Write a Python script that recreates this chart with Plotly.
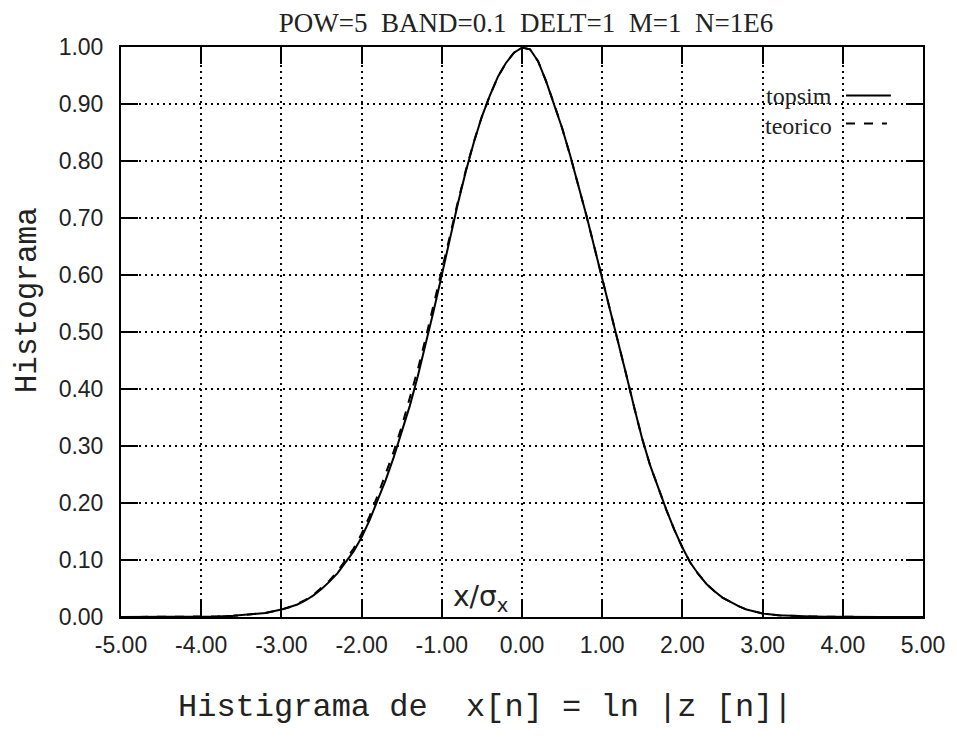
import plotly.graph_objects as go

x_vals = [-5.0, -4.5, -4.0, -3.8, -3.6, -3.4, -3.2, -3.0,
          -2.9, -2.8, -2.7, -2.6, -2.5, -2.4, -2.3, -2.2, -2.1, -2.0,
          -1.9, -1.8, -1.7, -1.6, -1.5, -1.4, -1.3, -1.2, -1.1, -1.0,
          -0.9, -0.8, -0.7, -0.6, -0.5, -0.4, -0.3, -0.2, -0.1, 0.0,
          0.1, 0.2, 0.3, 0.4, 0.5, 0.6, 0.7, 0.8, 0.9, 1.0,
          1.1, 1.2, 1.3, 1.4, 1.5, 1.6, 1.7, 1.8, 1.9, 2.0,
          2.1, 2.2, 2.3, 2.4, 2.5, 2.6, 2.7, 2.8, 2.9, 3.0,
          3.2, 3.4, 3.6, 3.8, 4.0, 4.5, 5.0]

topsim = [0.0, 0.0, 0.0005, 0.001, 0.002, 0.004, 0.007, 0.013,
          0.017, 0.022, 0.029, 0.038, 0.049, 0.062, 0.077, 0.095, 0.115, 0.140,
          0.170, 0.205, 0.240, 0.280, 0.323, 0.370, 0.422, 0.478, 0.538, 0.600,
          0.663, 0.725, 0.782, 0.833, 0.878, 0.915, 0.948, 0.972, 0.990, 0.999,
          0.996, 0.975, 0.940, 0.900, 0.858, 0.810, 0.760, 0.706, 0.650, 0.595,
          0.540, 0.483, 0.425, 0.367, 0.312, 0.265, 0.225, 0.188, 0.153, 0.122,
          0.095, 0.075, 0.058, 0.045, 0.034, 0.026, 0.019, 0.013, 0.009, 0.006,
          0.003, 0.0015, 0.001, 0.0005, 0.0, 0.0, 0.0]

teorico = [0.0, 0.0, 0.0005, 0.001, 0.002, 0.004, 0.007, 0.013,
           0.017, 0.023, 0.030, 0.039, 0.051, 0.064, 0.080, 0.099, 0.120, 0.146,
           0.177, 0.213, 0.250, 0.290, 0.334, 0.382, 0.434, 0.490, 0.548, 0.608,
           0.668, 0.728, 0.784, 0.834, 0.878, 0.915, 0.948, 0.972, 0.990, 0.999,
           0.996, 0.975, 0.940, 0.900, 0.858, 0.810, 0.760, 0.706, 0.650, 0.595,
           0.540, 0.483, 0.425, 0.367, 0.312, 0.265, 0.225, 0.188, 0.153, 0.122,
           0.095, 0.075, 0.058, 0.045, 0.034, 0.026, 0.019, 0.013, 0.009, 0.006,
           0.003, 0.0015, 0.001, 0.0005, 0.0, 0.0, 0.0]

x_ticks = [-5, -4, -3, -2, -1, 0, 1, 2, 3, 4, 5]
x_tick_labels = ["-5.00", "-4.00", "-3.00", "-2.00", "-1.00", "0.00",
                 "1.00", "2.00", "3.00", "4.00", "5.00"]
y_ticks = [0.0, 0.1, 0.2, 0.3, 0.4, 0.5, 0.6, 0.7, 0.8, 0.9, 1.0]
y_tick_labels = ["0.00", "0.10", "0.20", "0.30", "0.40", "0.50",
                 "0.60", "0.70", "0.80", "0.90", "1.00"]

series_names = ["topsim", "teorico"]
title_text = "POW=5  BAND=0.1  DELT=1  M=1  N=1E6"
x_title = "Histigrama de  x[n] = ln |z [n]|"
y_title = "Histograma"

# page body adds an 8px offset; figure sized so the plot lands where the original is
FIG_W, FIG_H = 949, 732

fig = go.Figure()
fig.add_trace(go.Scatter(x=x_vals, y=teorico, mode="lines", name=series_names[1],
                         line=dict(color="black", width=2, dash="dash"),
                         showlegend=False))
fig.add_trace(go.Scatter(x=x_vals, y=topsim, mode="lines", name=series_names[0],
                         line=dict(color="black", width=2),
                         showlegend=False))

axis_common = dict(
    showline=True, linecolor="black", linewidth=2, mirror="ticks",
    ticks="inside", ticklen=17, tickwidth=2, tickcolor="black",
    showgrid=True, gridcolor="black", gridwidth=2, griddash="2px,4px",
    zeroline=False,
    tickfont=dict(family="Liberation Sans", size=23, color="#222"),
)

fig.update_xaxes(range=[-5, 5], tickvals=x_ticks, ticktext=x_tick_labels,
                 ticklabelstandoff=6, **axis_common)
fig.update_yaxes(range=[0, 1], tickvals=y_ticks, ticktext=y_tick_labels,
                 ticklabelstandoff=11, **axis_common)

# axis titles (placed as in the original, which is not centred on the plot)
fig.add_annotation(xref="paper", yref="paper", x=0.454, y=-0.158, text=x_title,
                   showarrow=False, xanchor="center", yanchor="middle",
                   font=dict(family="Liberation Mono", size=32, color="#222"))
fig.add_annotation(xref="paper", yref="paper", x=-0.117, y=0.556, text=y_title,
                   showarrow=False, xanchor="center", yanchor="middle", textangle=-90,
                   borderpad=0,
                   font=dict(family="Liberation Mono", size=31, color="#222"))

# legend drawn to match the original layout (text left of line sample)
legend_font = dict(family="Liberation Serif", size=24, color="#222")
fig.add_annotation(xref="paper", yref="paper", x=0.888, y=0.914, text=series_names[0],
                   showarrow=False, xanchor="right", yanchor="middle", borderpad=0,
                   font=legend_font)
fig.add_annotation(xref="paper", yref="paper", x=0.888, y=0.861, text=series_names[1],
                   showarrow=False, xanchor="right", yanchor="middle", borderpad=0,
                   font=legend_font)
fig.add_shape(type="line", xref="paper", yref="paper", x0=0.904, x1=0.960, y0=0.915, y1=0.915,
              line=dict(color="black", width=2))
fig.add_shape(type="line", xref="paper", yref="paper", x0=0.904, x1=0.955, y0=0.866, y1=0.866,
              line=dict(color="black", width=2, dash="dash"))

# handwritten note x/sigma_x
fig.add_annotation(x=-0.52, y=0.032, text="x/σ<sub>x</sub>", showarrow=False,
                   font=dict(family="DejaVu Sans", size=28, color="#222"))

fig.update_layout(
    width=FIG_W, height=FIG_H,
    margin=dict(l=113, r=27, t=39, b=123),
    paper_bgcolor="white", plot_bgcolor="white",
    title=dict(text=title_text, x=0.505, xref="paper", xanchor="center",
               y=1 - 15 / FIG_H, yref="container", yanchor="middle",
               font=dict(family="Liberation Serif", size=27, color="#222")),
)

fig.write_html("out.html")
